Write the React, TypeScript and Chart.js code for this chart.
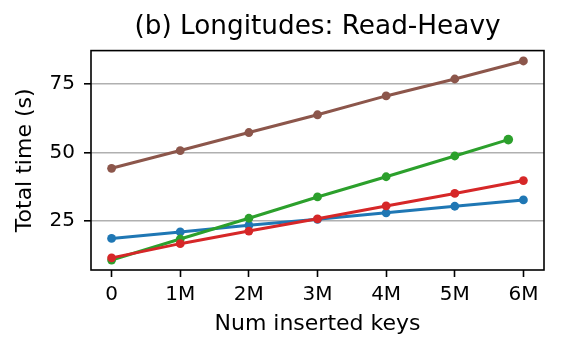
import React, { useEffect, useRef } from "react";
import { Chart, registerables } from "chart.js";

Chart.register(...registerables);

// x positions in millions of inserted keys
const insertedKeysM = [0, 1, 2, 3, 4, 5, 6];
const greenKeysM = [0, 1, 2, 3, 4, 5, 5.78];
const xTickValues = [0, 1, 2, 3, 4, 5, 6];
const xTickLabels = ["0", "1M", "2M", "3M", "4M", "5M", "6M"];
const yTickValues = [25, 50, 75];

// total time (s)
const brownTimes = [44.2, 50.7, 57.3, 63.8, 70.7, 76.9, 83.5];
const redTimes = [11.4, 16.6, 21.2, 25.7, 30.4, 35.0, 39.7];
const greenTimes = [10.6, 18.3, 25.9, 33.7, 41.1, 48.7, 54.7];
const blueTimes = [18.5, 20.9, 23.3, 25.5, 27.9, 30.3, 32.6];

const FONT = "'DejaVu Sans', sans-serif";

const framePlugin = {
  id: "frame",
  afterDraw(chart: any) {
    const { ctx, chartArea } = chart;
    const { left, top, right, bottom } = chartArea;
    ctx.save();
    ctx.strokeStyle = "#000";
    ctx.lineWidth = 1.6;
    ctx.strokeRect(left, top, right - left, bottom - top);
    ctx.restore();
  },
};

function pts(xs: number[], ys: number[]) {
  return ys.map((y, i) => ({ x: xs[i], y }));
}

function series(label: string, color: string, xs: number[], ys: number[], radius: any = 4.4) {
  return {
    label,
    data: pts(xs, ys),
    borderColor: color,
    backgroundColor: color,
    borderWidth: 3,
    pointRadius: radius,
    pointBackgroundColor: color,
    pointBorderColor: color,
    pointBorderWidth: 0,
    tension: 0,
  };
}

export default function App() {
  const ref = useRef<HTMLCanvasElement | null>(null);

  useEffect(() => {
    if (!ref.current) return;
    const chart = new Chart(ref.current, {
      type: "line",
      data: {
        datasets: [
          series("brown", "#8c564b", insertedKeysM, brownTimes),
          series("red", "#d62728", insertedKeysM, redTimes),
          series("green", "#2ca02c", greenKeysM, greenTimes, [4.4, 4.4, 4.4, 4.4, 4.4, 4.4, 4.8]),
          series("blue", "#1f77b4", insertedKeysM, blueTimes),
        ] as any,
      },
      options: {
        animation: false,
        responsive: false,
        devicePixelRatio: 1,
        layout: { padding: { top: 0, left: 0, right: 18, bottom: 0 } },
        plugins: {
          legend: { display: false },
          tooltip: { enabled: false },
          title: {
            display: true,
            text: "(b) Longitudes: Read-Heavy",
            fullSize: false,
            color: "#000",
            font: { family: FONT, size: 26.3, weight: "normal", lineHeight: 1 },
            padding: { top: 14.4, bottom: 9.9 },
          },
        },
        scales: {
          x: {
            type: "linear",
            min: -0.3,
            max: 6.3,
            afterBuildTicks: (scale: any) => {
              scale.ticks = xTickValues.map((v) => ({ value: v }));
            },
            afterFit: (scale: any) => {
              scale.height = 84;
            },
            ticks: {
              color: "#000",
              font: { family: FONT, size: 20, lineHeight: 1 },
              padding: 8.1,
              maxRotation: 0,
              autoSkip: false,
              callback: (value: any) => {
                const i = xTickValues.indexOf(Number(value));
                return i >= 0 ? xTickLabels[i] : "";
              },
            },
            grid: {
              drawOnChartArea: false,
              drawTicks: true,
              tickLength: 7,
              tickColor: "#000",
              tickWidth: 1.6,
            },
            border: { display: false },
            title: {
              display: true,
              text: "Num inserted keys",
              color: "#000",
              font: { family: FONT, size: 22, lineHeight: 1 },
              padding: { top: 0, bottom: 18.9 },
            },
          },
          y: {
            type: "linear",
            min: 6.95,
            max: 87.3,
            afterBuildTicks: (scale: any) => {
              scale.ticks = yTickValues.map((v) => ({ value: v }));
            },
            afterFit: (scale: any) => {
              scale.width = 91;
            },
            ticks: {
              color: "#000",
              font: { family: FONT, size: 20, lineHeight: 1 },
              padding: 9,
              autoSkip: false,
            },
            grid: {
              drawOnChartArea: true,
              color: "#b0b0b0",
              lineWidth: 1.6,
              drawTicks: true,
              tickLength: 7,
              tickColor: "#000",
              tickWidth: 1.6,
            },
            border: { display: false },
            title: {
              display: true,
              text: "Total time (s)",
              color: "#000",
              font: { family: FONT, size: 22, lineHeight: 1 },
              padding: { top: 14.1, bottom: 0 },
            },
          },
        },
      },
      plugins: [framePlugin],
    } as any);
    return () => chart.destroy();
  }, []);

  return (
    <div style={{ position: "absolute", left: 0, top: 0, width: 562, height: 354, background: "#fff" }}>
      <canvas ref={ref} width={562} height={354} style={{ display: "block", width: 562, height: 354 }} />
    </div>
  );
}
